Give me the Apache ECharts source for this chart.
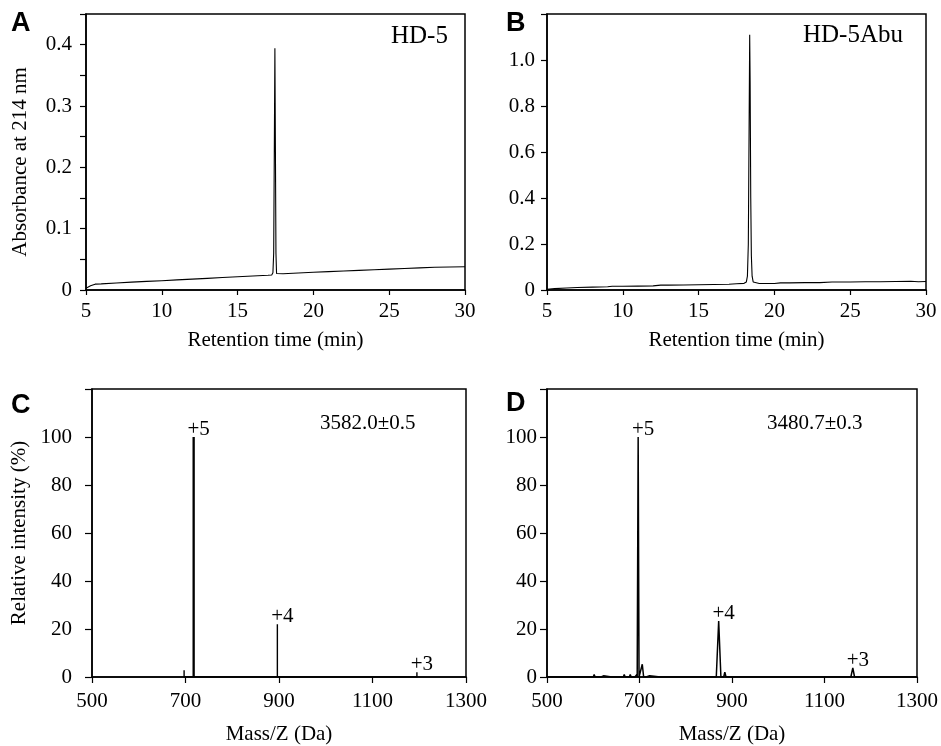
<!DOCTYPE html>
<html>
<head>
<meta charset="utf-8">
<script src="https://cdn.jsdelivr.net/npm/echarts@6/dist/echarts.min.js"></script>
<style>
html,body{margin:0;padding:0;background:#fff;}
#chart{width:941px;height:746px;}
</style>
</head>
<body>
<div id="chart"></div>
<script>
// ---------- DATA ----------
// Panel A: HPLC of HD-5 (retention time, min / absorbance at 214 nm)
const hplcA_time = [5.0, 5.3, 5.6, 6, 7, 8, 9, 10, 11, 12, 13, 14, 15, 16, 17, 17.25, 17.33, 17.38, 17.42, 17.46, 17.49, 17.53, 17.57, 17.7, 18, 19, 20, 21, 22, 23, 24, 25, 26, 27, 28, 29, 30];
const hplcA_abs  = [0.003, 0.007, 0.0095, 0.010, 0.0115, 0.0128, 0.014, 0.0152, 0.0165, 0.0178, 0.019, 0.0203, 0.0215, 0.0228, 0.024, 0.0245, 0.028, 0.06, 0.22, 0.394, 0.25, 0.06, 0.027, 0.026, 0.0265, 0.0277, 0.029, 0.030, 0.031, 0.032, 0.033, 0.034, 0.035, 0.036, 0.037, 0.0375, 0.038];

// Panel B: HPLC of HD-5Abu
const hplcB_time = [5.0, 5.5, 6.3, 7, 8, 9, 9.3, 10, 11, 12, 12.5, 13, 14, 15, 16, 17, 17.5, 18.0, 18.15, 18.22, 18.28, 18.33, 18.37, 18.40, 18.44, 18.48, 18.53, 18.6, 18.7, 19, 20, 20.4, 21, 22, 23, 23.8, 25, 26, 27, 28, 29, 29.5, 30];
const hplcB_abs  = [0.003, 0.006, 0.009, 0.011, 0.0125, 0.014, 0.016, 0.016, 0.017, 0.018, 0.021, 0.021, 0.022, 0.023, 0.024, 0.025, 0.027, 0.029, 0.035, 0.06, 0.2, 0.7, 1.11, 0.9, 0.4, 0.15, 0.06, 0.035, 0.029, 0.028, 0.028, 0.031, 0.031, 0.032, 0.032, 0.035, 0.035, 0.036, 0.036, 0.037, 0.038, 0.036, 0.037];

// Panel C: ESI-MS of HD-5 (stick peaks)
const msC_mass      = [697, 717.4, 873, 896.5, 920, 1195];
const msC_intensity = [2.8, 100, 0.5, 22, 0.5, 2];
const msC_majorMass = [717.4];
const msC_majorInt  = [100];

// Panel D: ESI-MS of HD-5Abu (profile)
const msD_mass      = [500, 600, 602, 604, 608, 610, 614, 617, 622, 625, 640, 642, 644, 655, 657, 659, 665, 667, 669, 678, 680, 682, 690, 694, 695, 697.1, 699, 703, 706, 709, 714, 716, 718, 722, 724, 745, 747, 749, 760, 762, 764, 830, 832, 834, 866, 871.2, 876, 882, 884.5, 887, 890, 891, 893, 1157, 1161.2, 1165, 1177, 1178, 1179, 1300];
const msD_intensity = [0, 0, 1, 0, 0.8, 0, 0.7, 0, 0.5, 0, 0, 0.5, 0, 0, 0.7, 0, 0, 1, 0, 0, 1, 0, 0, 1, 0, 100, 0, 0, 5.3, 0, 0, 0.7, 0, 0.5, 0, 0, 0.4, 0, 0, 0.4, 0, 0, 0.3, 0, 0, 23.3, 0, 0, 2, 0, 0, 0.5, 0, 0, 3.8, 0, 0, 0.8, 0, 0];

// Charge-state labels
const msC_labelMass = [717.4, 896.5, 1195];
const msC_labelInt  = [100, 22, 2];
const msD_labelMass = [697.1, 871.2, 1161.2];
const msD_labelInt  = [100, 23.3, 3.8];
const chargeLabels  = ['+5', '+4', '+3'];

// Axis ticks
const hplcX_ticks = [5, 10, 15, 20, 25, 30];
const msX_ticks   = [500, 700, 900, 1100, 1300];

// Texts
const panelLetters = ['A', 'B', 'C', 'D'];
const sampleNames  = ['HD-5', 'HD-5Abu'];
const massResults  = ['3582.0\u00b10.5', '3480.7\u00b10.3'];
const axisNames = {
  hplcX: 'Retention time (min)',
  hplcY: 'Absorbance at 214 nm',
  msX: 'Mass/Z (Da)',
  msY: 'Relative intensity (%)'
};

// ---------- BUILD ----------
const SERIF = 'Liberation Serif';
const zip = (a, b) => a.map((v, i) => [v, b[i]]);

function stems(masses, ints) {
  const out = [];
  masses.forEach((m, i) => { out.push([m, 0], [m, ints[i]], [m, 0]); });
  return out;
}

const grids = [
  { left: 86, top: 14, width: 379, height: 276 },
  { left: 547, top: 14, width: 379, height: 276 },
  { left: 92, top: 389, width: 374, height: 288 },
  { left: 547, top: 389, width: 372, height: 288 }
].map(g => Object.assign(g, { show: true, borderColor: '#000', borderWidth: 1.5, backgroundColor: 'transparent' }));

const axisLineStyle = { show: true, lineStyle: { color: '#000', width: 1.5 } };
const labelStyle = { color: '#000', fontFamily: SERIF, fontSize: 21 };
const nameStyle = { color: '#000', fontFamily: SERIF, fontSize: 21 };

function xAxisHPLC(gi) {
  return {
    type: 'value', gridIndex: gi, min: 5, max: 30, interval: 5,
    axisLine: axisLineStyle,
    axisTick: { show: true, length: 5, lineStyle: { color: '#000', width: 1.2 } },
    axisLabel: Object.assign({ margin: 11, formatter: v => String(v) }, labelStyle),
    splitLine: { show: false },
    name: axisNames.hplcX, nameLocation: 'middle', nameGap: 40,
    nameTextStyle: nameStyle
  };
}
function xAxisMS(gi) {
  return {
    type: 'value', gridIndex: gi, min: 500, max: 1300,
    axisLine: axisLineStyle,
    axisTick: { show: true, length: 6, customValues: msX_ticks, lineStyle: { color: '#000', width: 1.2 } },
    axisLabel: Object.assign({ margin: 14, customValues: msX_ticks, formatter: v => String(v) }, labelStyle),
    splitLine: { show: false },
    name: axisNames.msX, nameLocation: 'middle', nameGap: 47,
    nameTextStyle: nameStyle
  };
}

const chargeLabelStyle = {
  show: true, position: 'top', distance: -3, offset: [5, 0],
  color: '#000', opacity: 1, fontFamily: SERIF, fontSize: 21,
  formatter: p => chargeLabels[p.dataIndex]
};

function labelSeries(xi, masses, ints) {
  return {
    type: 'scatter', xAxisIndex: xi, yAxisIndex: xi, symbol: 'circle', symbolSize: 0,
    itemStyle: { color: '#000', opacity: 1 },
    emphasis: { disabled: true },
    data: zip(masses, ints), label: chargeLabelStyle, silent: true, z: 5
  };
}

const option = {
  backgroundColor: '#fff',
  animation: false,
  textStyle: { fontFamily: SERIF },
  grid: grids,
  title: [
    { text: panelLetters[0], left: 11, top: 10 },
    { text: panelLetters[1], left: 506, top: 10 },
    { text: panelLetters[2], left: 11, top: 392 },
    { text: panelLetters[3], left: 506, top: 390 }
  ].map(t => Object.assign(t, { padding: 0, textStyle: { fontFamily: 'Liberation Sans', fontWeight: 'bold', fontSize: 27, color: '#000' } }))
   .concat([
    { text: sampleNames[0], left: 391, top: 24 },
    { text: sampleNames[1], left: 803, top: 23 }
  ].map(t => Object.assign(t, { padding: 0, textStyle: { fontFamily: SERIF, fontWeight: 'normal', fontSize: 25, color: '#000' } })))
   .concat([
    { text: massResults[0], left: 320, top: 413 },
    { text: massResults[1], left: 767, top: 413 }
  ].map(t => Object.assign(t, { padding: 0, textStyle: { fontFamily: SERIF, fontWeight: 'normal', fontSize: 21, color: '#000' } }))),
  xAxis: [xAxisHPLC(0), xAxisHPLC(1), xAxisMS(2), xAxisMS(3)],
  yAxis: [
    {
      type: 'value', gridIndex: 0, min: 0, max: 0.45, interval: 0.05,
      axisLine: axisLineStyle,
      axisTick: { show: true, length: 6, lineStyle: { color: '#000', width: 1.2 } },
      axisLabel: Object.assign({ margin: 14, formatter: v => {
        const k = Math.round(v * 100);
        if (k % 10 !== 0) return '';
        return k === 0 ? '0' : (k / 100).toFixed(1);
      } }, labelStyle),
      splitLine: { show: false },
      name: axisNames.hplcY, nameLocation: 'middle', nameGap: 55,
      nameTextStyle: Object.assign({ padding: [0, 20, 0, 0] }, nameStyle)
    },
    {
      type: 'value', gridIndex: 1, min: 0, max: 1.2, interval: 0.2,
      axisLine: axisLineStyle,
      axisTick: { show: true, length: 6, lineStyle: { color: '#000', width: 1.2 } },
      axisLabel: Object.assign({ margin: 12, formatter: v => {
        const k = Math.round(v * 10);
        if (k >= 12) return '';
        return k === 0 ? '0' : (k / 10).toFixed(1);
      } }, labelStyle),
      splitLine: { show: false }
    },
    {
      type: 'value', gridIndex: 2, min: 0, max: 120, interval: 20,
      axisLine: axisLineStyle,
      axisTick: { show: true, length: 7, lineStyle: { color: '#000', width: 1.2 } },
      axisLabel: Object.assign({ margin: 20, formatter: v => v >= 120 ? '' : String(v) }, labelStyle),
      splitLine: { show: false },
      name: axisNames.msY, nameLocation: 'middle', nameGap: 62,
      nameTextStyle: nameStyle
    },
    {
      type: 'value', gridIndex: 3, min: 0, max: 120, interval: 20,
      axisLine: axisLineStyle,
      axisTick: { show: true, length: 7, lineStyle: { color: '#000', width: 1.2 } },
      axisLabel: Object.assign({ margin: 10, formatter: v => v >= 120 ? '' : String(v) }, labelStyle),
      splitLine: { show: false }
    }
  ],
  series: [
    {
      type: 'line', xAxisIndex: 0, yAxisIndex: 0, showSymbol: false, symbol: 'none',
      data: zip(hplcA_time, hplcA_abs), lineStyle: { color: '#000', width: 1.1 }
    },
    {
      type: 'line', xAxisIndex: 1, yAxisIndex: 1, showSymbol: false, symbol: 'none',
      data: zip(hplcB_time, hplcB_abs), lineStyle: { color: '#000', width: 1.1 }
    },
    {
      type: 'line', xAxisIndex: 2, yAxisIndex: 2, showSymbol: false, symbol: 'none',
      data: stems(msC_mass, msC_intensity), lineStyle: { color: '#000', width: 1.4 }
    },
    {
      type: 'line', xAxisIndex: 2, yAxisIndex: 2, showSymbol: false, symbol: 'none',
      data: stems(msC_majorMass, msC_majorInt), lineStyle: { color: '#000', width: 2.2 }
    },
    {
      type: 'line', xAxisIndex: 3, yAxisIndex: 3, showSymbol: false, symbol: 'none',
      data: zip(msD_mass, msD_intensity), lineStyle: { color: '#000', width: 1.5 }
    },
    labelSeries(2, msC_labelMass, msC_labelInt),
    labelSeries(3, msD_labelMass, msD_labelInt)
  ]
};

const chart = echarts.init(document.getElementById('chart'), null, { renderer: 'canvas' });
chart.setOption(option);
</script>
</body>
</html>
